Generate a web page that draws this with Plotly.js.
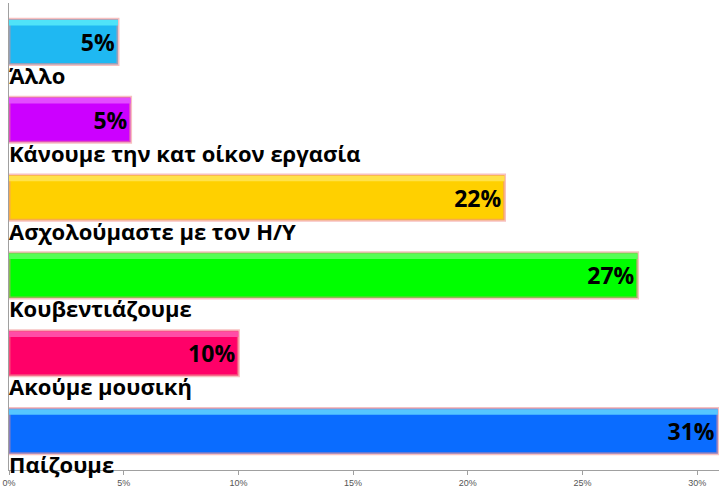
<!DOCTYPE html>
<html>
<head>
<meta charset="utf-8">
<script src="https://cdn.plot.ly/plotly-3.0.1.min.js"></script>
<style>html,body{margin:0;padding:0;background:#fff;}#chart{width:719px;height:492px;}</style>
</head>
<body>
<div id="chart"></div>
<script>
// Top-to-bottom order as shown
const categories = ["Άλλο", "Κάνουμε την κατ οίκον εργασία", "Ασχολούμαστε με τον Η/Υ", "Κουβεντιάζουμε", "Ακούμε μουσική", "Παίζουμε"];
const values = [4.75, 5.3, 21.6, 27.4, 10.0, 30.9];
const barColors = ["#1fb8f2", "#cc00ff", "#ffd000", "#00ff00", "#ff0068", "#0a6cff"];
const highlightColors = ["#4fe3f8", "#e34dff", "#ffe24a", "#55ff55", "#ff4da6", "#55c6ff"];
const tickVals = [0, 5, 10, 15, 20, 25, 30];
const tickText = ["0%", "5%", "10%", "15%", "20%", "25%", "30%"];

const trace = {
  type: "bar",
  orientation: "h",
  y: categories,
  x: values,
  width: 0.58,
  marker: {color: barColors, line: {color: "rgba(240,140,140,0.55)", width: 3}},
  text: values.map(v => Math.round(v) + "%"),
  textposition: "inside",
  insidetextanchor: "end",
  textfont: {family: "Open Sans", size: 23, color: "#000", weight: 700},
  hoverinfo: "none"
};

const highlight = {
  type: "bar",
  orientation: "h",
  y: categories,
  x: values,
  width: 0.07,
  offset: -0.28,
  marker: {color: highlightColors, line: {width: 0}},
  hoverinfo: "none"
};

const annotations = categories.map(c => ({
  xref: "x", yref: "y", x: 0, y: c,
  xanchor: "left", yanchor: "middle",
  yshift: -33, xshift: -2,
  text: c, showarrow: false,
  font: {family: "Open Sans", size: 22, color: "#000", weight: 700}
}));

const layout = {
  width: 719, height: 492,
  margin: {l: 9, r: 0, t: 3, b: 22},
  paper_bgcolor: "#fff", plot_bgcolor: "#fff",
  showlegend: false,
  barmode: "overlay",
  xaxis: {
    range: [0, 30.95],
    tickvals: tickVals, ticktext: tickText,
    showgrid: false, zeroline: false,
    showline: true, linecolor: "#a0a0a0", linewidth: 1,
    ticks: "outside", ticklen: 4, tickcolor: "#a0a0a0",
    tickfont: {family: "Liberation Sans Narrow, Liberation Sans", size: 9, color: "#555"}
  },
  yaxis: {
    range: [5.5, -0.5],
    showticklabels: false, showgrid: false, zeroline: false,
    showline: true, linecolor: "#a0a0a0", linewidth: 1, ticks: ""
  },
  annotations: annotations
};

Plotly.newPlot("chart", [trace, highlight], layout, {displayModeBar: false, staticPlot: true});
</script>
</body>
</html>
